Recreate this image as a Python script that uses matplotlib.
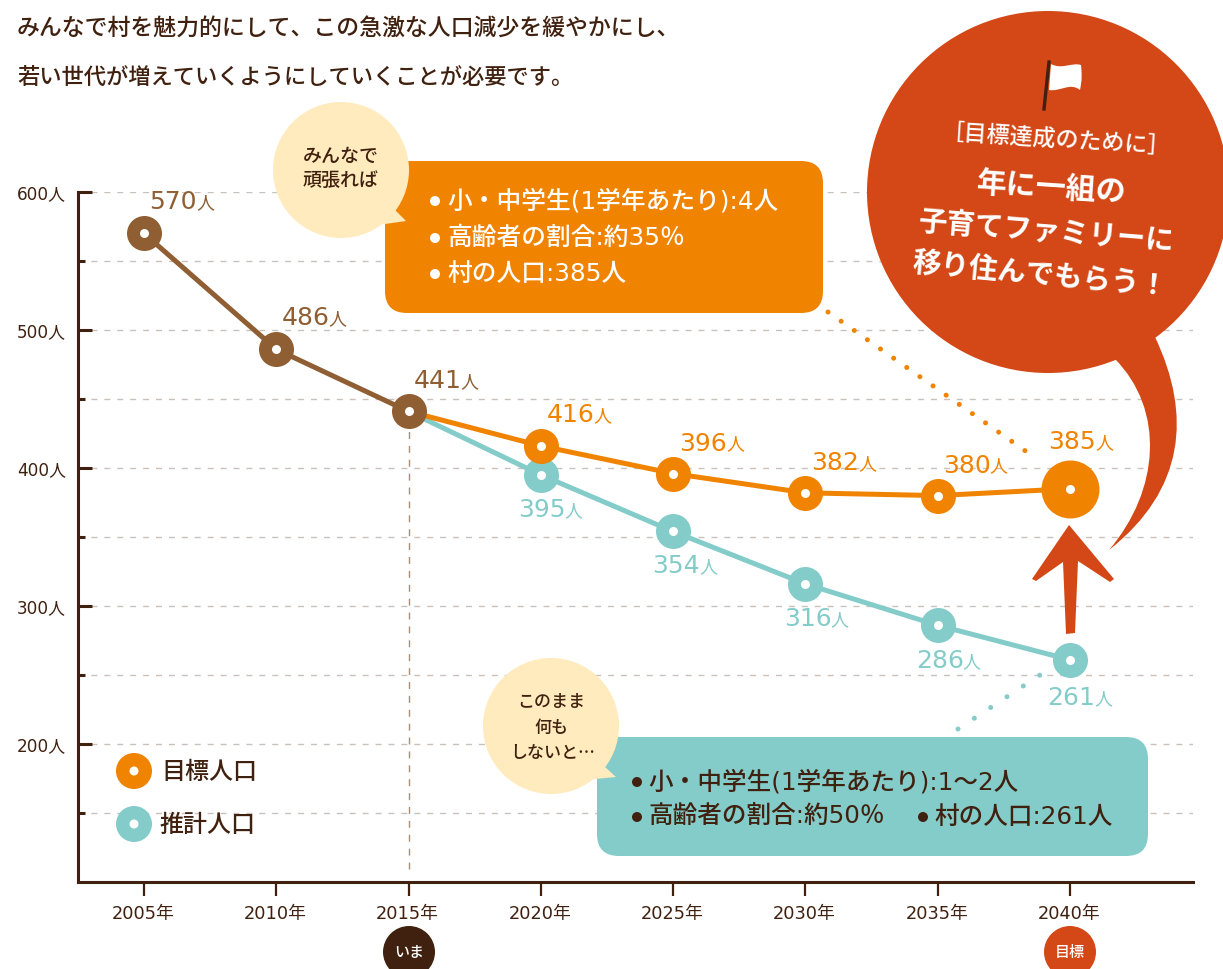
import matplotlib
matplotlib.use('Agg')
import matplotlib.pyplot as plt
from matplotlib.patches import Circle, FancyBboxPatch, PathPatch, Polygon
from matplotlib.path import Path

JP = ['Noto Sans CJK JP', 'DejaVu Sans']
MIX = ['DejaVu Sans', 'Noto Sans CJK JP']
plt.rcParams['font.family'] = JP

years_actual = [2005, 2010, 2015]
pop_actual = [570, 486, 441]
years_proj = [2015, 2020, 2025, 2030, 2035, 2040]
pop_target = [441, 416, 396, 382, 380, 385]
pop_estimate = [441, 395, 354, 316, 286, 261]
x_ticks = [2005, 2010, 2015, 2020, 2025, 2030, 2035, 2040]
y_major = [200, 300, 400, 500, 600]
y_grid = [150, 200, 250, 300, 350, 400, 450, 500, 550, 600]

BROWN = '#8F5E33'; ORANGE = '#F08300'; TEAL = '#84CCC9'; RED = '#D34816'
CREAM = '#FFEBBE'; DARK = '#40210F'
W, H = 1223, 969
px = 0.72

fig = plt.figure(figsize=(W/100, H/100), dpi=100, facecolor='white')
L, R, T, B = 78, 1193, 192, 882
ax = fig.add_axes([L/W, 1-B/H, (R-L)/W, (B-T)/H], zorder=1)
ax.patch.set_alpha(0)
ax.set_xlim(2005-66/26.457, 2040+123/26.457)
ax.set_ylim(100, 600)
for s in ['top', 'right']:
    ax.spines[s].set_visible(False)
for s in ['left', 'bottom']:
    ax.spines[s].set_color(DARK); ax.spines[s].set_linewidth(2.2)
ax.set_yticks(y_major)
ax.set_yticklabels([])
ax.set_yticks([v for v in y_grid if v not in y_major], minor=True)
ax.tick_params(axis='y', which='major', direction='in', length=10, width=2.2, color=DARK)
ax.tick_params(axis='y', which='minor', direction='in', length=5, width=2.2, color=DARK)
ax.set_xticks(x_ticks)
ax.set_xticklabels([])
ax.tick_params(axis='x', direction='out', length=10, width=1.6, color=DARK)
for v in y_grid:
    ax.axhline(v, color='#C9C2BC', lw=1, ls=(0, (4.3, 5.0)), zorder=0.5)
ax.plot([2015, 2015], [100+13/1.38, 441], color='#B08D70', lw=1, ls=(0, (5, 5)), zorder=1)

for v in y_major:
    ax.annotate(f'{v}人', (ax.get_xlim()[0], v), xytext=(-12, -2), textcoords='offset pixels',
                ha='right', va='center', fontsize=16.9*px, color=DARK, family=MIX, annotation_clip=False)
for y in x_ticks:
    ax.annotate(f'{y}年', (y, 100), xytext=(-1, -32), textcoords='offset pixels',
                ha='center', va='center', fontsize=17.8*px, color=DARK, family=MIX, annotation_clip=False)

ax.plot(years_proj, pop_estimate, color=TEAL, lw=3.6, zorder=2, clip_on=False, solid_capstyle='round')
ax.plot(years_proj, pop_target, color=ORANGE, lw=3.6, zorder=3, clip_on=False, solid_capstyle='round')
ax.plot(years_actual, pop_actual, color=BROWN, lw=3.6, zorder=4, clip_on=False, solid_capstyle='round')

def dots(xs, ys, c, z, last=None):
    for i, (a, b) in enumerate(zip(xs, ys)):
        d = 35
        if last and i == len(xs)-1:
            d = 58
        ax.plot([a], [b], 'o', ms=d*px, color=c, mec='none', zorder=z, clip_on=False)
        ax.plot([a], [b], 'o', ms=9*px, color='white', mec='none', zorder=z+0.1, clip_on=False)

dots(years_proj[1:], pop_estimate[1:], TEAL, 5)
dots(years_proj[1:], pop_target[1:], ORANGE, 6, last=True)
dots(years_actual, pop_actual, BROWN, 7)

def vlabel(x, y, c, dx, dy):
    ax.annotate(f'{y}', (x, y), xytext=(dx, dy), textcoords='offset pixels', ha='right', va='center',
                fontsize=25*px, color=c, family='DejaVu Sans', annotation_clip=False, zorder=8)
    ax.annotate('人', (x, y), xytext=(dx-1, dy-1), textcoords='offset pixels', ha='left', va='center',
                fontsize=18*px, color=c, annotation_clip=False, zorder=8)

for x, y, dx, dy in zip(years_actual, pop_actual, [53, 53, 53], [31, 31, 30]):
    vlabel(x, y, BROWN, dx, dy)
for x, y, dx, dy in zip(years_proj[1:], pop_target[1:], [54, 54, 54, 53, 26], [31, 30, 30, 30, 47]):
    vlabel(x, y, ORANGE, dx, dy)
for x, y, dx, dy in zip(years_proj[1:], pop_estimate[1:], [25, 27, 26, 26, 25], [-35, -35, -35, -36, -38]):
    vlabel(x, y, TEAL, dx, dy)

ov = fig.add_axes([0, 0, 1, 1], zorder=2)
ov.set_xlim(0, W); ov.set_ylim(H, 0); ov.axis('off'); ov.patch.set_alpha(0)

def t(x, y, s, size, c=DARK, ha='left', rot=0, family=JP, weight='medium'):
    ov.text(x, y, s, fontsize=size*px, color=c, ha=ha, va='center', rotation=rot,
            rotation_mode='anchor', family=family, fontweight=weight)

t(17, 29, 'みんなで村を魅力的にして、この急激な人口減少を緩やかにし、', 22.9)
t(17, 77, '若い世代が増えていくようにしていくことが必要です。', 22.3)

# orange callout
ov.add_patch(FancyBboxPatch((385+22, 161+22), 438-44, 152-44, boxstyle='round,pad=22,rounding_size=22',
                            fc=ORANGE, ec='none'))
ov.add_patch(Circle((341, 170), 68, fc=CREAM, ec='none'))
ov.add_patch(Polygon([[395, 210], [406, 221], [385, 224], [372, 225]], fc=CREAM, ec='none'))
t(341, 156, 'みんなで', 19, ha='center')
t(341, 180, '頑張れば', 19, ha='center')
for y, s in zip([201, 238, 274], ['小・中学生(1学年あたり):4人', '高齢者の割合:約35％', '村の人口:385人']):
    ov.add_patch(Circle((435, y), 5, fc='white', ec='none'))
    t(447, y, s, 24.7, 'white', family=MIX)

# teal callout
ov.add_patch(FancyBboxPatch((597+22, 737+22), 551-44, 119-44, boxstyle='round,pad=22,rounding_size=22',
                            fc=TEAL, ec='none'))
ov.add_patch(Circle((551, 726), 68, fc=CREAM, ec='none'))
ov.add_patch(Polygon([[605, 767], [616, 777], [595, 779], [582, 780]], fc=CREAM, ec='none'))
t(551, 702, 'このまま', 17, ha='center')
t(551, 728, '何も', 17, ha='center')
t(553, 753, 'しないと…', 17, ha='center')
for x, y, s in [(648, 782, '小・中学生(1学年あたり):1〜2人'), (648, 817, '高齢者の割合:約50％'),
                (934, 817, '村の人口:261人')]:
    ov.add_patch(Circle((x-11, y), 5, fc=DARK, ec='none'))
    t(x, y, s, 24.6, DARK, family=MIX)

# dotted leaders
ov.plot([828, 1034], [312, 457], color=ORANGE, lw=3.6, ls=(0, (0.01, 3.2)), dash_capstyle='round')
ov.plot([958, 1040], [729, 675], color=TEAL, lw=3.6, ls=(0, (0.01, 3.9)), dash_capstyle='round')

# red bubble, tail, arrow
ov.add_patch(Circle((1048, 192), 181, fc=RED, ec='none'))
tail = Path([(1109, 550), (1160, 490), (1165, 410), (1115, 359), (1155, 337),
             (1192, 415), (1185, 490), (1109, 550), (1109, 550)],
            [Path.MOVETO, Path.CURVE4, Path.CURVE4, Path.CURVE4, Path.LINETO,
             Path.CURVE4, Path.CURVE4, Path.CURVE4, Path.CLOSEPOLY])
ov.add_patch(PathPatch(tail, fc=RED, ec='none'))
ov.add_patch(Polygon([[1069, 525], [1114, 579], [1110, 582], [1078, 561], [1075, 633], [1066, 634],
                      [1063, 562], [1036, 581], [1032, 579]], fc=RED, ec='none'))

# flag
ov.plot([1049, 1044], [62, 109], color=DARK, lw=2.4)
flag = Path([(1051, 64), (1062, 70), (1072, 62), (1081, 65), (1082, 75), (1082, 80), (1080, 90),
             (1070, 82), (1060, 92), (1049, 90), (1051, 64)],
            [Path.MOVETO, Path.CURVE4, Path.CURVE4, Path.CURVE4, Path.CURVE4, Path.CURVE4, Path.CURVE4,
             Path.CURVE4, Path.CURVE4, Path.CURVE4, Path.CLOSEPOLY])
ov.add_patch(PathPatch(flag, fc='white', ec='none'))

t(1056, 142, '［目標達成のために］', 23, 'white', ha='center', rot=-3.7)
t(1052, 188, '年に一組の', 30, 'white', ha='center', rot=-3.8, weight='bold')
t(1047, 232, '子育てファミリーに', 28.5, 'white', ha='center', rot=-4.6, weight='bold')
t(1040, 275, '移り住んでもらう！', 28.5, 'white', ha='center', rot=-5.5, weight='bold')

# legend
for y, c, s, x0 in [(771, ORANGE, '目標人口', 161), (824, TEAL, '推計人口', 159)]:
    ov.add_patch(Circle((134, y), 18, fc=c, ec='none'))
    ov.add_patch(Circle((134, y), 4.5, fc='white', ec='none'))
    t(x0, y+1, s, 24, DARK)

# badges
ov.add_patch(Circle((409, 952), 26, fc=DARK, ec='none'))
t(409, 952, 'いま', 15, 'white', ha='center')
ov.add_patch(Circle((1070, 952), 26, fc=RED, ec='none'))
t(1070, 952, '目標', 15, 'white', ha='center')

fig.savefig('out.png', dpi=100)
